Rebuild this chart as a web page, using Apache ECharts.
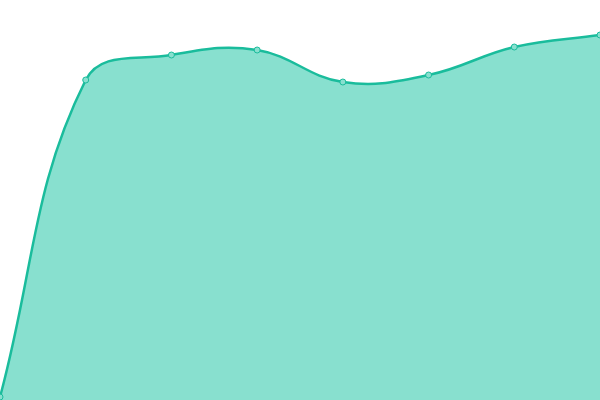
<!DOCTYPE html>
<html><head><meta charset="utf-8">
<script src="https://cdn.jsdelivr.net/npm/echarts@6/dist/echarts.min.js"></script>
<style>html,body{margin:0;padding:0;background:#fff}#c{width:600px;height:400px}</style>
</head><body><div id="c"></div>
<script>
var categories = ['A','B','C','D','E','F','G','H'];
var values = [3, 320, 345, 350, 318, 325, 353, 365];
var tension = 0.4;

function buildPaths(api) {
  var pts = values.map(function (v, i) { return api.coord([i, v]); });
  var n = pts.length, cps = [];
  for (var i = 0; i < n; i++) {
    var prev = pts[i - 1] || pts[i], cur = pts[i], next = pts[i + 1] || pts[i];
    var d01 = Math.hypot(cur[0] - prev[0], cur[1] - prev[1]);
    var d12 = Math.hypot(next[0] - cur[0], next[1] - cur[1]);
    var s01 = d01 / (d01 + d12), s12 = d12 / (d01 + d12);
    if (isNaN(s01)) s01 = 0; if (isNaN(s12)) s12 = 0;
    var fa = tension * s01, fb = tension * s12;
    cps.push({
      p: [cur[0] - fa * (next[0] - prev[0]), cur[1] - fa * (next[1] - prev[1])],
      n: [cur[0] + fb * (next[0] - prev[0]), cur[1] + fb * (next[1] - prev[1])]
    });
  }
  var d = 'M' + pts[0][0] + ' ' + pts[0][1];
  for (var j = 1; j < n; j++) {
    d += ' C' + cps[j - 1].n[0] + ' ' + cps[j - 1].n[1] + ' ' + cps[j].p[0] + ' ' + cps[j].p[1] + ' ' + pts[j][0] + ' ' + pts[j][1];
  }
  var base0 = api.coord([0, 0]), baseN = api.coord([n - 1, 0]);
  var area = d + ' L' + baseN[0] + ' ' + baseN[1] + ' L' + base0[0] + ' ' + base0[1] + ' Z';
  return {line: d, area: area};
}

var chart = echarts.init(document.getElementById('c'));
chart.setOption({
  animation: false,
  grid: {left: 0, right: 0, top: 0, bottom: 0},
  xAxis: {type: 'category', data: categories, boundaryGap: false, show: false},
  yAxis: {type: 'value', min: 0, max: 400, show: false},
  series: [{
    type: 'custom',
    data: [0],
    clip: false,
    renderItem: function (params, api) {
      var p = buildPaths(api);
      return {type: 'group', children: [
        {type: 'path', shape: {pathData: p.area}, style: {fill: '#88e0cf', stroke: null}},
        {type: 'path', shape: {pathData: p.line}, style: {fill: null, stroke: '#1abc9c', lineWidth: 2.5}}
      ]};
    }
  }, {
    type: 'line',
    data: values,
    symbol: 'circle',
    symbolSize: 6,
    lineStyle: {opacity: 0},
    itemStyle: {color: '#88e0cf', borderColor: '#1abc9c', borderWidth: 1},
    z: 5
  }]
});
</script></body></html>
